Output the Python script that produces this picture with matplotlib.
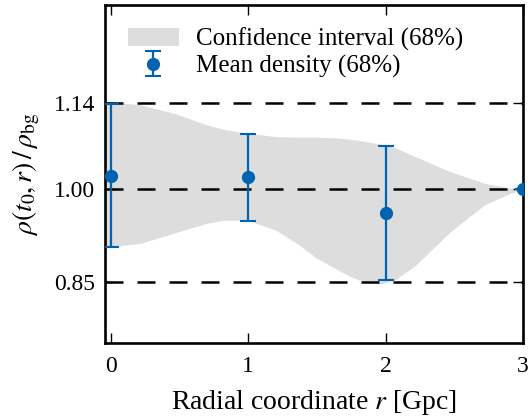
import numpy as np
import matplotlib
matplotlib.use("Agg")
import matplotlib.pyplot as plt

plt.rcParams['font.family'] = ['Liberation Serif', 'DejaVu Serif']
plt.rcParams['mathtext.fontset'] = 'stix'
plt.rcParams['font.size'] = 17

# -------- data --------
r_mean = [0, 1, 2, 3]
rho_mean = [1.022, 1.0195, 0.961, 1.000]
rho_top = [1.139, 1.090, 1.071, 1.000]
rho_bot = [0.907, 0.949, 0.852, 1.000]

# confidence band edges
r_band = [-0.04, 0.0, 0.21, 0.46, 0.70, 0.82, 0.95, 1.02, 1.20, 1.37, 1.50,
          1.63, 1.73, 1.80, 1.93, 1.98, 2.07, 2.22, 2.47, 2.72, 2.91, 3.0]
band_hi = [1.142, 1.142, 1.138, 1.124, 1.105, 1.098, 1.093, 1.091, 1.086, 1.085, 1.085,
           1.084, 1.082, 1.080, 1.075, 1.073, 1.068, 1.053, 1.029, 1.010, 1.002, 1.000]
band_lo = [0.906, 0.907, 0.912, 0.929, 0.945, 0.950, 0.950, 0.948, 0.934, 0.910, 0.888,
           0.872, 0.860, 0.853, 0.847, 0.847, 0.853, 0.877, 0.931, 0.975, 0.994, 1.000]

ref_levels = [0.85, 1.00, 1.14]
blue = '#0063B1'

err_low = [m - b for m, b in zip(rho_mean, rho_bot)]
err_high = [t - m for m, t in zip(rho_mean, rho_top)]

fig = plt.figure(figsize=(5.31, 4.19), dpi=100)
ax = fig.add_axes([0.198, 0.181, 0.787, 0.807])

ax.fill_between(r_band, band_lo, band_hi, color='#DDDDDD', lw=0,
                label='Confidence interval (68%)', zorder=1)
for lev in ref_levels:
    ax.axhline(lev, color='black', lw=1.8, dashes=(7.2, 5.6), zorder=2)
ax.errorbar(r_mean, rho_mean, yerr=[err_low, err_high], fmt='o', color=blue,
            ms=8.5, lw=1.6, capsize=5.5, capthick=1.5,
            label='Mean density (68%)', zorder=3)

ax.set_xlim(-0.04, 3.0)
ax.set_ylim(0.75, 1.30)
ax.set_xticks([0, 1, 2, 3])
ax.set_yticks(ref_levels)
ax.set_yticklabels(['0.85', '1.00', '1.14'])
ax.tick_params(direction='in', top=True, right=True, length=7, width=1.0)
ax.tick_params(axis='x', pad=9)
ax.tick_params(axis='y', pad=7)
for s in ax.spines.values():
    s.set_linewidth(1.9)

ax.set_xlabel('Radial coordinate $r$ [Gpc]', fontsize=20, labelpad=8)
ax.set_ylabel(r'$\rho(t_0, r)\,/\,\rho_{\rm bg}$', fontsize=20, labelpad=9)

ax.legend(loc='upper left', frameon=False, fontsize=18, handlelength=2.05,
          handletextpad=0.7, labelspacing=0.15, borderaxespad=0.5)

fig.savefig('out.png', dpi=100)
